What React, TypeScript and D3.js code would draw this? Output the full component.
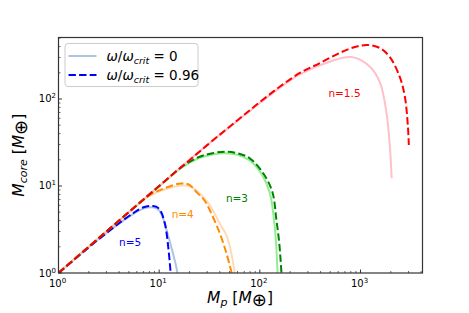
import React from "react";
import * as d3 from "d3";

type Pt = [number, number];

// n = 5
const n5Solid: Pt[] = [[1, 1], [2.5, 2.45], [5.5, 4.75], [7, 5.5], [8.2, 5.7], [9.5, 5.5], [10.5, 4.8], [11.5, 3.5], [12.5, 2.5], [13.5, 1.8], [14.5, 1.3], [15.2, 1]];
const n5Dashed: Pt[] = [[1, 1], [2.57, 2.5], [5.5, 4.86], [7, 5.7], [8.07, 5.9], [9.3, 5.8], [10.2, 5.3], [11.4, 3.7], [12.3, 2.0], [13, 1]];
// n = 4
const n4Solid: Pt[] = [[1, 1], [5, 5], [8, 7.7], [12, 9.3], [17, 10.1], [21, 9.7], [25, 8.3], [30, 6.6], [34, 5.3], [40, 3.7], [46.6, 2.7], [52, 1.7], [56.4, 1]];
const n4Dashed: Pt[] = [[1, 1], [5, 5], [8, 7.8], [11.8, 9.6], [16.6, 10.7], [20, 10.3], [23.5, 8.5], [28, 6.9], [31.8, 5.3], [40, 2.86], [46.6, 1.68], [52.5, 1]];
// n = 3
const n3Solid: Pt[] = [[1, 1], [10, 9.9], [17, 16.5], [25, 21], [35, 23.2], [45, 23.8], [60, 22.8], [80, 19.5], [105, 13.5], [125, 8.5], [138, 4.2], [145, 2.2], [150, 1]];
const n3Dashed: Pt[] = [[1, 1], [10, 10], [17.3, 17], [25.3, 21.7], [35, 24], [46.6, 24.8], [60, 23.8], [79.5, 20.8], [108, 14], [133, 8.6], [146, 4.1], [156, 2.2], [164, 1]];
// n = 1.5
const n15Solid: Pt[] = [[1, 1], [10, 10], [30, 29.5], [60, 56], [100, 90], [160, 136], [250, 192], [500, 270], [818, 303], [1240, 235], [1560, 155], [1810, 70], [1960, 28], [2040, 12.3]];
const n15Dashed: Pt[] = [[1, 1], [10, 10], [30, 29.5], [60, 57], [100, 92], [160, 140], [250, 199], [395, 259], [620, 338], [880, 396], [1180, 417], [1560, 385], [1960, 303], [2460, 178], [2760, 106], [2960, 47.7], [3020, 29.6]];

const solidSeries = [n5Solid, n4Solid, n3Solid, n15Solid];
const dashedSeries = [n5Dashed, n4Dashed, n3Dashed, n15Dashed];
const solidColors = ["#b0c4de", "#ffdab9", "#90ee90", "#ffc0cb"];
const dashedColors = ["blue", "darkorange", "green", "red"];

const curveLabels = ["n=5", "n=4", "n=3", "n=1.5"];
const labelPos: Pt[] = [[4.0, 2.05], [13.3, 4.3], [46, 6.5], [480, 105]];

const xMajor = [1, 10, 100, 1000];
const yMajor = [1, 10, 100];
const legendLabels = ["0", "0.96"];

const W = 469, H = 313;
const L = 58.5, R = 422.5, T = 37.5, B = 273;

export default function App() {
  const x = d3.scaleLog().domain([1, 4130]).range([L, R]);
  const y = d3.scaleLog().domain([1, 509]).range([B, T]);
  const line = d3.line<Pt>().x(d => x(d[0])).y(d => y(d[1])).curve(d3.curveCatmullRom.alpha(0.5));

  const xMinor: number[] = [];
  for (const dec of [1, 10, 100, 1000]) for (let k = 2; k <= 9; k++) { const v = dec * k; if (v < 4130) xMinor.push(v); }
  const yMinor: number[] = [];
  for (const dec of [1, 10, 100]) for (let k = 2; k <= 9; k++) { const v = dec * k; if (v < 509) yMinor.push(v); }

  const font = "DejaVu Sans, sans-serif";

  return (
    <svg width={W} height={H} style={{ position: "absolute", left: 0, top: 0, background: "white" }} fontFamily={font}>
      <defs>
        <clipPath id="plotclip"><rect x={L} y={T} width={R - L} height={B - T} /></clipPath>
      </defs>
      <g clipPath="url(#plotclip)">
        {solidSeries.map((s, i) => (
          <path key={"s" + i} d={line(s) || ""} fill="none" stroke={solidColors[i]} strokeWidth={2} />
        ))}
        {dashedSeries.map((s, i) => (
          <path key={"d" + i} d={line(s) || ""} fill="none" stroke={dashedColors[i]} strokeWidth={2} strokeDasharray="7.4,3.2" />
        ))}
      </g>
      {curveLabels.map((t, i) => (
        <text key={t} x={x(labelPos[i][0])} y={y(labelPos[i][1])} fontSize={10.5} fill={dashedColors[i]}>{t}</text>
      ))}
      {/* ticks */}
      {xMajor.map(v => <line key={"xM" + v} x1={x(v)} x2={x(v)} y1={B} y2={B - 3.5} stroke="#000" strokeWidth={0.8} />)}
      {xMinor.map(v => <line key={"xm" + v} x1={x(v)} x2={x(v)} y1={B} y2={B - 2} stroke="#000" strokeWidth={0.6} />)}
      {yMajor.map(v => <line key={"yM" + v} x1={L} x2={L + 3.5} y1={y(v)} y2={y(v)} stroke="#000" strokeWidth={0.8} />)}
      {yMinor.map(v => <line key={"ym" + v} x1={L} x2={L + 2} y1={y(v)} y2={y(v)} stroke="#000" strokeWidth={0.6} />)}
      <rect x={L} y={T} width={R - L} height={B - T} fill="none" stroke="#333" strokeWidth={1.2} />
      {/* tick labels */}
      {xMajor.map(v => (
        <text key={"xl" + v} x={x(v) - 1} y={287} fontSize={10} textAnchor="middle" fill="#000">
          10<tspan fontSize={7} dy={-4}>{Math.round(Math.log10(v))}</tspan>
        </text>
      ))}
      {yMajor.map(v => (
        <text key={"yl" + v} x={56} y={y(v) + 3.5} fontSize={10} textAnchor="end" fill="#000">
          10<tspan fontSize={7} dy={-4}>{Math.round(Math.log10(v))}</tspan>
        </text>
      ))}
      {/* axis labels */}
      <text x={240} y={302.5} fontSize={15.5} textAnchor="middle" fill="#000">
        <tspan fontStyle="italic">M</tspan><tspan fontStyle="italic" fontSize={11} dy={3}>p</tspan>
        <tspan dy={-3}> [</tspan><tspan fontStyle="italic">M</tspan><tspan fontSize={18} dy={3}>⊕</tspan><tspan dy={-3}>]</tspan>
      </text>
      <text transform={`translate(24,${(T + B) / 2}) rotate(-90)`} fontSize={15.5} textAnchor="middle" fill="#000">
        <tspan fontStyle="italic">M</tspan><tspan fontStyle="italic" fontSize={11} dy={3}>core</tspan>
        <tspan dy={-3}> [</tspan><tspan fontStyle="italic">M</tspan><tspan fontSize={18} dy={3}>⊕</tspan><tspan dy={-3}>]</tspan>
      </text>
      {/* legend */}
      <rect x={65} y={43.5} width={133} height={43} rx={3} fill="white" fillOpacity={0.8} stroke="#cccccc" strokeWidth={1} />
      {legendLabels.map((lab, i) => {
        const ry = 56 + i * 19;
        return (
          <g key={"lg" + i}>
            <line x1={68.5} x2={96.5} y1={ry} y2={ry} stroke={i === 0 ? solidColors[0] : dashedColors[0]} strokeWidth={2} strokeDasharray={i === 0 ? undefined : "7.4,3.2"} />
            <text x={106.5} y={ry + 5} fontSize={13.5} fill="#000">
              <tspan fontStyle="italic">ω</tspan>/<tspan fontStyle="italic">ω</tspan>
              <tspan fontStyle="italic" fontSize={9.5} dy={3}>crit</tspan>
              <tspan dy={-3}> = {lab}</tspan>
            </text>
          </g>
        );
      })}
    </svg>
  );
}
